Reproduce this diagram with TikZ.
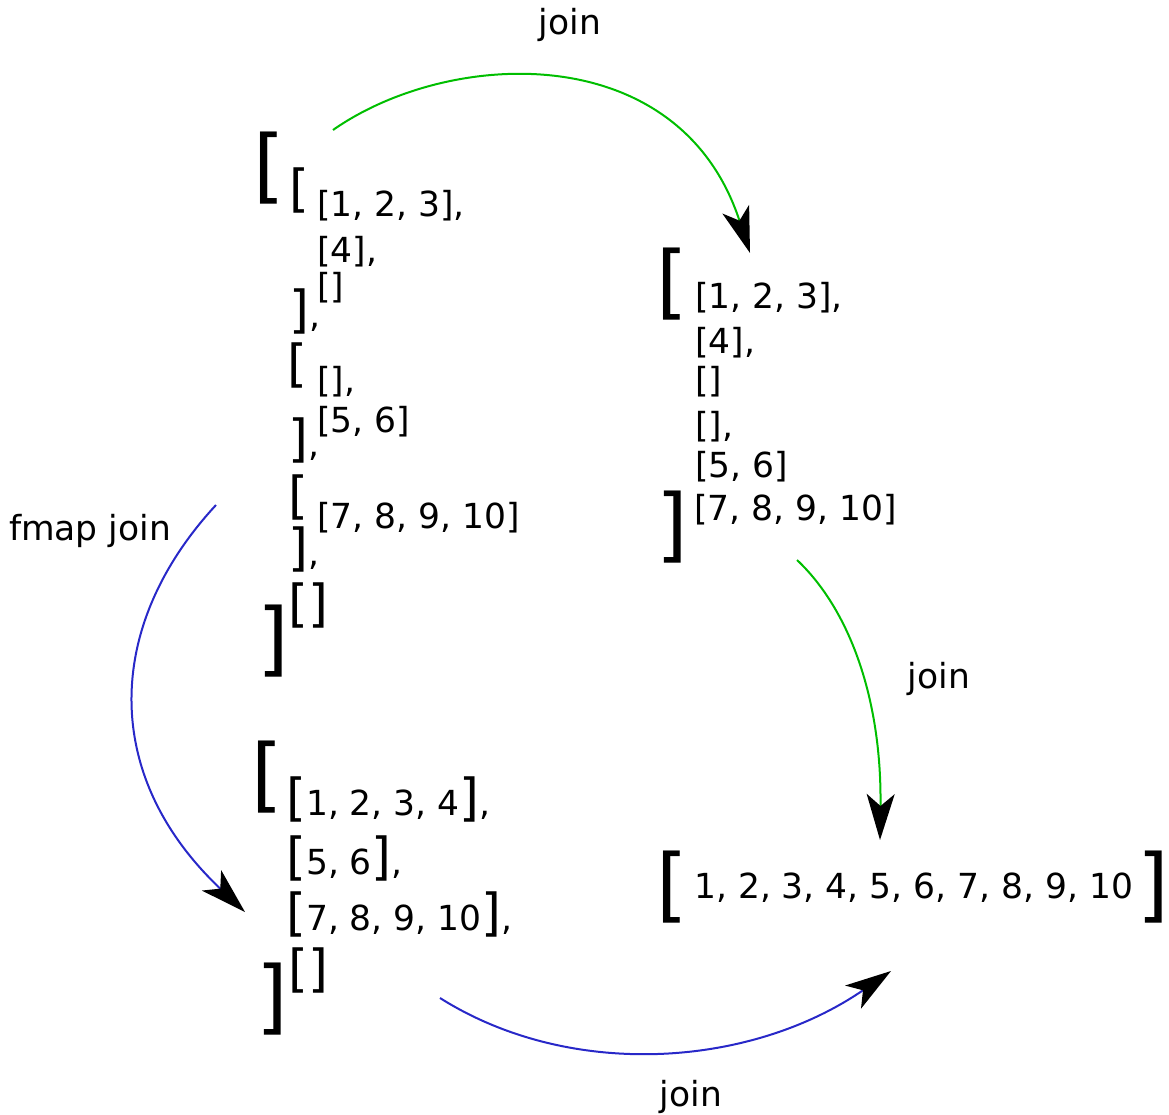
\documentclass[tikz,border=0pt]{standalone}
\usepackage{fontspec}
\setmainfont{DejaVu Sans}
\usetikzlibrary{arrows.meta}
\definecolor{jgreen}{RGB}{0,190,0}
\definecolor{jblue}{RGB}{40,40,200}
\newcommand{\nfz}{\fontsize{34.5}{40}\selectfont}
\newcommand{\mfz}{\fontsize{51}{60}\selectfont}
\newcommand{\bgz}{\fontsize{81}{90}\selectfont}
\tikzset{
  txt/.style={anchor=base west, inner sep=0pt, font=\nfz},
  mid/.style={anchor=base west, inner sep=0pt, font=\mfz},
  big/.style={anchor=base west, inner sep=0pt, font=\bgz},
  lbl/.style={anchor=base, inner sep=0pt, font=\nfz},
  arr/.style={line width=2pt, -{Stealth[length=46pt,width=28pt,inset=12pt,color=black]}},
}
\begin{document}
\begin{tikzpicture}[x=1pt,y=-1pt]
\useasboundingbox (0,0) rectangle (1169,1115);
% top-left nested list
\node[big] (tlo) at (253.5,194) {[};
\node[mid] (tla) at (289,207) {[};
\node[txt] (tl1) at (317,217) {[1, 2, 3],};
\node[txt] (tl2) at (317,262) {[4],};
\node[txt] (tl3) at (317,298.5) {[]};
\node[mid] (tlb) at (289,327) {]{\nfz,}};
\node[mid] (tlc) at (287,381) {[};
\node[txt] (tl4) at (317,392.5) {[],};
\node[mid] (tld) at (288,456) {]{\nfz,}};
\node[txt] (tl5) at (317,432.5) {[5, 6]};
\node[mid] (tle) at (288,513.5) {[};
\node[txt] (tl6) at (317,528.5) {[7, 8, 9, 10]};
\node[mid] (tlf) at (288,565) {]{\nfz,}};
\node[mid] (tlg) at (288,621) {[]};
\node[big] (tlz) at (257,666) {]};
% top-right list
\node[big] (tro) at (656.5,309) {[};
\node[txt] (tr1) at (695,308.5) {[1, 2, 3],};
\node[txt] (tr2) at (695,353.5) {[4],};
\node[txt] (tr3) at (695,392.5) {[]};
\node[txt] (tr4) at (695,437.5) {[],};
\node[txt] (tr5) at (695,477.5) {[5, 6]};
\node[big] (trz) at (656.5,552) {]};
\node[txt] (tr6) at (694,520.5) {[7, 8, 9, 10]};
% bottom-left list
\node[big] (blo) at (251.5,802.5) {[};
\node[txt] (bl1) at (286,815) {{\mfz[}1, 2, 3, 4{\mfz]},};
\node[txt] (bl2) at (286,874) {{\mfz[}5, 6{\mfz]},};
\node[txt] (bl3) at (286,930) {{\mfz[}7, 8, 9, 10{\mfz]},};
\node[mid] (bl4) at (288,986.5) {[]};
\node[big] (blz) at (256,1024) {]};
% bottom-right list
\node[big] (bro) at (656.5,912.5) {[};
\node[txt] (br1) at (694,898) {1, 2, 3, 4, 5, 6, 7, 8, 9, 10};
\node[big] (brz) at (1137,912.5) {]};
% labels
\node[lbl] (ljt) at (570,35) {join};
\node[lbl] (lfj) at (90,540) {fmap join};
\node[lbl] (ljr) at (939,688) {join};
\node[lbl] (ljb) at (691,1106) {join};
% connector ends
\coordinate (g1s) at (333,130);
\coordinate (g1e) at (750,253);
\coordinate (g2s) at (797,560);
\coordinate (g2e) at (880,840);
\coordinate (b1s) at (216,505);
\coordinate (b1e) at (245,912);
\coordinate (b2s) at (440,998);
\coordinate (b2e) at (891,971);
\draw[arr, jgreen] (g1s) .. controls (450,48) and (680,38) .. (g1e);
\draw[arr, jgreen] (g2s) .. controls (850,610) and (882,700) .. (g2e);
\draw[arr, jblue] (b1s) .. controls (105,625) and (100,775) .. (b1e);
\draw[arr, jblue] (b2s) .. controls (570,1080) and (750,1068) .. (b2e);
\end{tikzpicture}
\end{document}
